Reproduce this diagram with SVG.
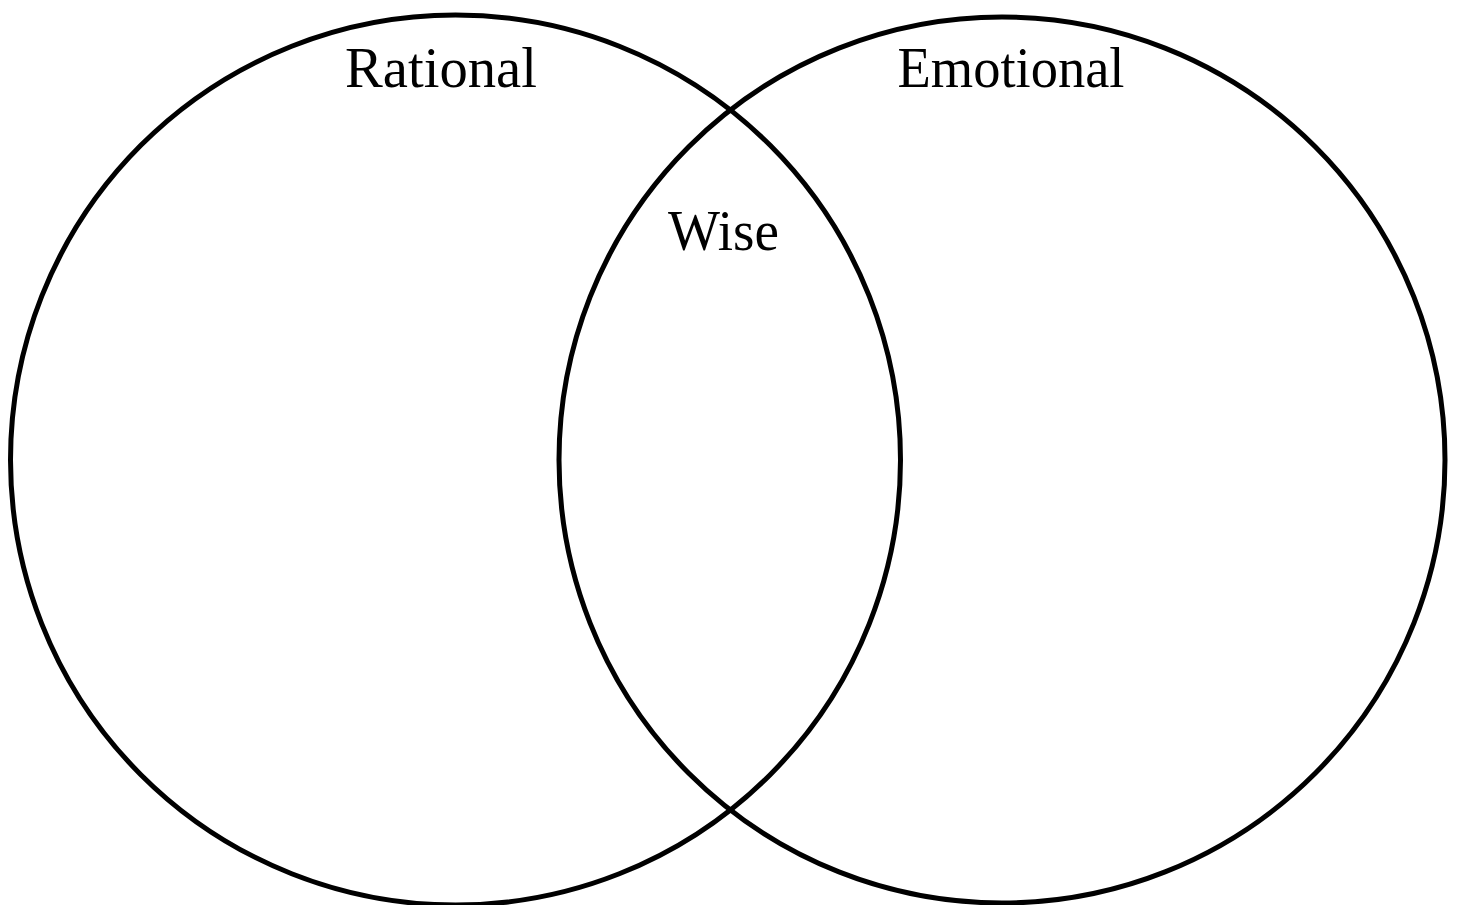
<svg xmlns="http://www.w3.org/2000/svg" width="1461" height="905" viewBox="0 0 1461 905">
<style>
.c{fill:none;stroke:#000;stroke-width:5}
.t{font-family:"Liberation Serif",serif;font-size:57px;fill:#000;text-anchor:middle}
</style>
<rect width="1461" height="905" fill="#fff"/>
<g id="connectors"/>
<g id="rational"><circle class="c" cx="455.5" cy="460" r="445"/><text class="t" x="441" y="87" textLength="192" lengthAdjust="spacingAndGlyphs">Rational</text></g>
<g id="emotional"><circle class="c" cx="1002" cy="460" r="443"/><text class="t" x="1011" y="87" textLength="227" lengthAdjust="spacingAndGlyphs">Emotional</text></g>
<g id="wise"><text class="t" x="723.5" y="250" textLength="111" lengthAdjust="spacingAndGlyphs">Wise</text></g>
</svg>
